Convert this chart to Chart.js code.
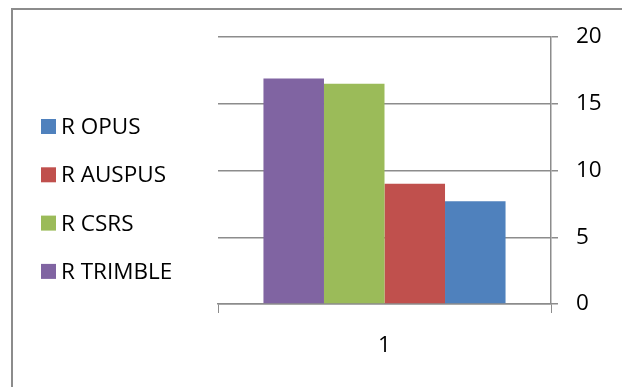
<!DOCTYPE html>
<html>
<head>
<meta charset="utf-8">
<script src="https://cdn.jsdelivr.net/npm/chart.js@4/dist/chart.umd.min.js"></script>
<style>
  body { margin: 0; background: #fff; }
  #frame { position: absolute; left: 11px; top: 8px; width: 700px; height: 500px;
           border-left: 2px solid #8c8c8c; border-top: 2px solid #8c8c8c; }
  #chart { position: absolute; left: 0; top: 0; }
</style>
</head>
<body>
<div id="frame"></div>
<canvas id="chart" width="622" height="387"></canvas>
<script>
// categories and series, in the order the bars are drawn (left to right)
const categories = ['1'];
const seriesNames = ['R TRIMBLE', 'R CSRS', 'R AUSPUS', 'R OPUS'];
const seriesValues = [[16.9], [16.5], [9.0], [7.7]];
const seriesColors = ['#8064A2', '#9BBB59', '#C0504D', '#4F81BD'];
const yTicks = [0, 5, 10, 15, 20];

const gridGray = '#8c8c8c';
const font = { family: 'Open Sans', size: 22.5 };

const datasets = seriesNames.map((name, i) => ({
    label: name,
    data: seriesValues[i],
    backgroundColor: seriesColors[i],
    borderWidth: 0,
    categoryPercentage: 0.727,
    barPercentage: 1
}));

// legend on the left, listed in reverse of the bar order like the original
const sideLegend = {
    id: 'sideLegend',
    afterDraw(chart) {
        const ctx = chart.ctx;
        const items = chart.data.datasets.slice().reverse();
        ctx.save();
        ctx.font = font.size + 'px "' + font.family + '"';
        ctx.textBaseline = 'middle';
        items.forEach((ds, i) => {
            const cy = 126.5 + i * 48.3;
            ctx.fillStyle = ds.backgroundColor;
            ctx.fillRect(41, cy - 7.5, 15, 15);
            ctx.fillStyle = '#000';
            ctx.fillText(ds.label, 61, cy + 1);
        });
        ctx.restore();
    }
};

new Chart(document.getElementById('chart'), {
    type: 'bar',
    data: { labels: categories, datasets: datasets },
    plugins: [sideLegend],
    options: {
        responsive: false,
        animation: false,
        layout: { padding: { left: 218, top: 37, right: 0, bottom: 9 } },
        plugins: {
            tooltip: { enabled: false },
            legend: { display: false }
        },
        scales: {
            x: {
                grid: { drawOnChartArea: false, drawTicks: true, tickLength: 9, color: gridGray },
                border: { color: gridGray, width: 1.5 },
                ticks: { color: '#000', font: font, padding: 19 }
            },
            y: {
                position: 'right',
                min: 0,
                max: 20,
                afterBuildTicks: scale => { scale.ticks = yTicks.map(v => ({ value: v })); },
                afterFit: scale => { scale.width = 71; },
                grid: { color: gridGray, lineWidth: 1.5, tickLength: 7 },
                border: { color: gridGray, width: 1.5 },
                ticks: { color: '#000', font: font, padding: 18, crossAlign: 'near' }
            }
        }
    }
});
</script>
</body>
</html>
